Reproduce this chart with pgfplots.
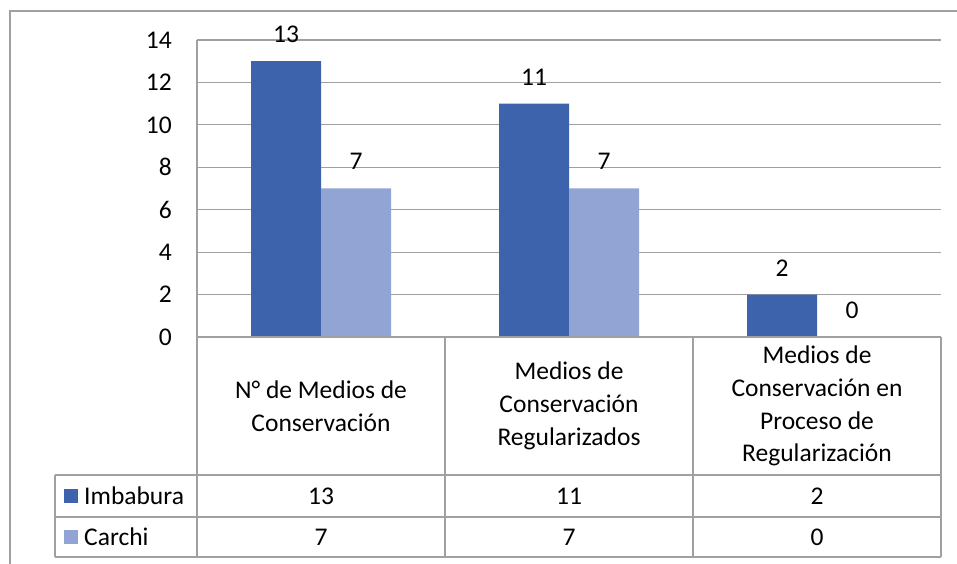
\documentclass[border=0pt]{standalone}
\usepackage{pgfplots}
\pgfplotsset{compat=1.18}
\usepackage{fontspec}
\setmainfont{Carlito}
\definecolor{imb}{RGB}{60,99,171}
\definecolor{car}{RGB}{145,164,212}
\definecolor{gridc}{RGB}{160,160,160}
\begin{document}
\begin{tikzpicture}[x=1pt,y=1pt]
\newcommand{\fs}{\fontsize{25.5}{32.8}\selectfont}
\useasboundingbox (0,0) rectangle (957,564);
\begin{scope}
\clip (0,0) rectangle (957,564);
% outer frame
\draw[gridc,line width=1.2pt] (10,-5) -- (10,553) -- (970,553);
\end{scope}
\begin{axis}[
  at={(197pt,227pt)}, anchor=south west,
  width=744pt, height=297pt, scale only axis,
  xmin=-0.5, xmax=2.5, ymin=0, ymax=14,
  ytick={0,2,...,14},
  xtick={0,1,2},
  xticklabels={{N° de Medios de\\Conservación},{Medios de\\Conservación\\Regularizados},{Medios de\\Conservación en\\Proceso de\\Regularización}},
  xticklabel style={align=center, anchor=center, yshift=-69pt, font=\fs},
  yticklabel style={anchor=east, inner sep=0pt, xshift=-25pt, font=\fs},
  /pgf/number format/assume math mode=true,
  major tick length=0pt,
  ymajorgrids, grid style={gridc, line width=1.2pt},
  axis line style={draw=none},
  ybar=0pt, bar width=70pt,
  nodes near coords,
  every node near coord/.append style={font=\fs, anchor=south, yshift=15pt},
  clip=false,
]
\addplot[fill=imb, draw=none] coordinates {(0,13) (1,11) (2,2)};
\addplot[fill=car, draw=none] coordinates {(0,7) (1,7) (2,0)};
\end{axis}
% table lines (pixel y -> 564 - y)
\begin{scope}[gridc, line width=1.2pt]
\draw (197,227) -- (941,227);
\draw (55,89) -- (941,89);
\draw (55,47) -- (941,47);
\draw (55,7) -- (941,7);
\draw (197,524) -- (197,7);
\draw (55,89) -- (55,7);
\draw (445,227) -- (445,7);
\draw (693,227) -- (693,7);
\draw (941,227) -- (941,7);
\end{scope}
% legend keys and row labels
\fill[imb] (64,61) rectangle (78,75);
\fill[car] (64,20) rectangle (78,34);
\node[anchor=west, inner sep=0pt, font=\fs] at (84,68) {Imbabura};
\node[anchor=west, inner sep=0pt, font=\fs] at (84,27) {Carchi};
\foreach \x/\a/\b in {321/13/7, 569/11/7, 817/2/0}{
  \node[font=\fs] at (\x,68) {\a};
  \node[font=\fs] at (\x,27) {\b};
}
\end{tikzpicture}
\end{document}
